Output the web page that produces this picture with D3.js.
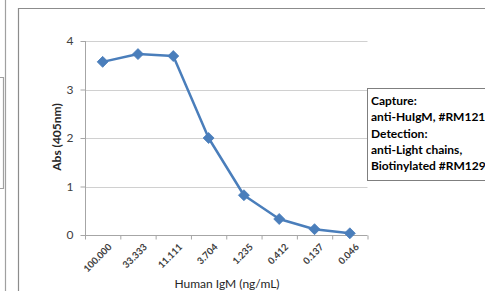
<!DOCTYPE html>
<html><head><meta charset="utf-8">
<script src="https://cdn.jsdelivr.net/npm/d3@7"></script>
<style>html,body{margin:0;padding:0;background:#fff;overflow:hidden}</style>
</head><body>
<script>
const categories = ["100.000","33.333","11.111","3.704","1.235","0.412","0.137","0.046"];
const absValues = [3.57, 3.73, 3.69, 2.0, 0.82, 0.33, 0.12, 0.035];
const yTicks = [0,1,2,3,4];
const legendLines = ["Capture:","anti-HuIgM, #RM121","Detection:","anti-Light chains,","Biotinylated #RM129"];

const W=485,H=291;
const svg=d3.select("body").append("svg").attr("width",W).attr("height",H);
const font="Lato, 'Open Sans', sans-serif";

// neighbouring chart fragments / borders
svg.append("line").attr("x1",5.5).attr("x2",5.5).attr("y1",0).attr("y2",H).attr("stroke","#a0a0a0").attr("stroke-width",1.2);
svg.append("path").attr("d","M0,77.5H3.5V188.5H0").attr("fill","none").attr("stroke","#a0a0a0").attr("stroke-width",1.2);
svg.append("path").attr("d","M18.5,"+H+"V8.5H"+W).attr("fill","none").attr("stroke","#8c8c8c").attr("stroke-width",1.2);

const x=d3.scaleBand().domain(categories).range([85,367.5]);
const y=d3.scaleLinear().domain([0,4]).range([235,41]);

// gridlines
svg.append("g").selectAll("line").data(yTicks.filter(d=>d>0)).join("line")
  .attr("x1",85).attr("x2",367.5).attr("y1",d=>Math.round(y(d))+0.5).attr("y2",d=>Math.round(y(d))+0.5)
  .attr("stroke","#d0d0d0").attr("stroke-width",1);

// y axis
const ya=svg.append("g").attr("transform","translate(85.5,0)")
  .call(d3.axisLeft(y).tickValues(yTicks).tickSize(5).tickPadding(7).tickFormat(d3.format("d")));
ya.select(".domain").attr("stroke","#a6a6a6").attr("d","M0,41V235.5");
ya.selectAll(".tick line").attr("stroke","#a6a6a6");
ya.selectAll("text").attr("font-family",font).attr("font-size",12).attr("fill","#404040");

// x axis
const xa=svg.append("g").attr("transform","translate(0,235.5)")
  .call(d3.axisBottom(x).tickSize(0).tickFormat(""));
xa.select(".domain").attr("stroke","#a6a6a6").attr("d","M85,0H367.5");
xa.selectAll(".tick").remove();
const bounds=categories.map(c=>x(c)).concat([x.range()[1]]);
xa.selectAll("line.b").data(bounds).join("line").attr("class","b")
  .attr("x1",d=>d+0.5).attr("x2",d=>d+0.5).attr("y1",0).attr("y2",4).attr("stroke","#a6a6a6");
svg.append("g").selectAll("text").data(categories).join("text")
  .attr("transform",d=>`translate(${x(d)+x.bandwidth()/2+5},243) rotate(-45)`)
  .attr("text-anchor","end").attr("dy","0.7em")
  .attr("font-family",font).attr("font-size",9.5).attr("font-weight","bold").attr("fill","#404040").text(d=>d);

// line and markers
const pts=categories.map((c,i)=>[x(c)+x.bandwidth()/2,y(absValues[i])]);
svg.append("path").attr("d",d3.line()(pts)).attr("fill","none").attr("stroke","#4a7ebb").attr("stroke-width",2.5).attr("stroke-linejoin","round");
svg.append("g").selectAll("path").data(pts).join("path")
  .attr("transform",d=>`translate(${d[0]},${d[1]})`)
  .attr("d","M0,-5.5L5.5,0L0,5.5L-5.5,0Z").attr("fill","#4a7ebb").attr("stroke","#4a7ebb").attr("stroke-width",0.8);

// axis titles
svg.append("text").attr("transform","translate(61,137) rotate(-90)").attr("text-anchor","middle")
  .attr("font-family",font).attr("font-size",12).attr("font-weight","bold").attr("fill","#262626").text("Abs (405nm)");
svg.append("text").attr("x",227).attr("y",288).attr("text-anchor","middle")
  .attr("font-family",font).attr("font-size",12).attr("fill","#262626").text("Human IgM (ng/mL)");

// legend-like text box
svg.append("rect").attr("x",367.5).attr("y",88.5).attr("width",140).attr("height",92).attr("fill","#fff").attr("stroke","#7f7f7f").attr("stroke-width",1);
svg.append("g").selectAll("text").data(legendLines).join("text")
  .attr("x",371).attr("y",(d,i)=>105+i*16.3)
  .attr("font-family",font).attr("font-size",12).attr("font-weight","bold").attr("fill","#000").text(d=>d);
</script>
</body></html>
